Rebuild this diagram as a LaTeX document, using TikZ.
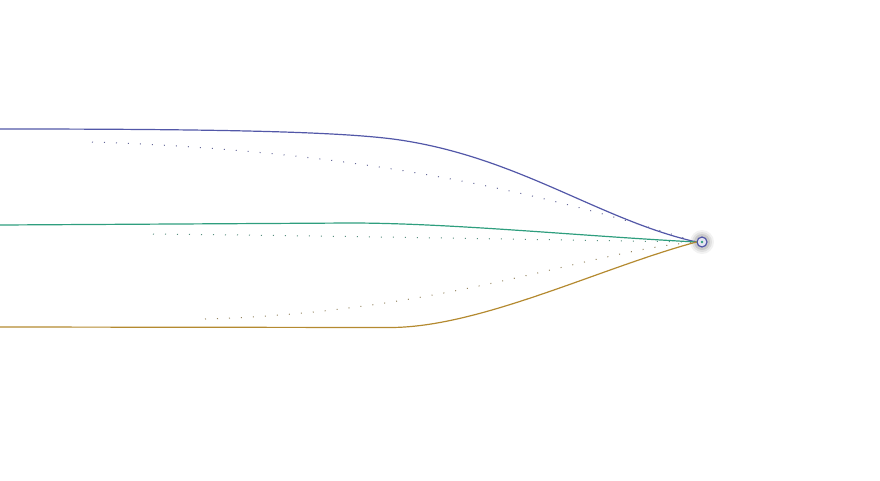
\documentclass[tikz,border=0pt]{standalone}
\begin{document}
\begin{tikzpicture}[x=1pt,y=-1pt,
  flowblue/.style={draw=fblue,line width=1.2pt,line cap=round},
  flowgreen/.style={draw=fgreen,line width=1.2pt,line cap=round},
  floworange/.style={draw=forange,line width=1.2pt,line cap=round},
  dotline/.style={line width=1pt,dash pattern=on 1pt off 11pt},
  hub/.style={circle,draw=fblue,line width=1.2pt,fill=fblue!15,minimum size=10pt,inner sep=0pt}]
\definecolor{fblue}{HTML}{5257A8}
\definecolor{fgreen}{HTML}{2E9E7E}
\definecolor{forange}{HTML}{B48A30}
\useasboundingbox (0,0) rectangle (880,480);
% glow
\foreach \r/\o in {12/0.05,10/0.07,8/0.1}{\fill[black,opacity=\o] (702,242) circle (\r);}
\node[hub] (h) at (702,242) {};
\fill[fgreen] (h.center) circle (1.4);
\coordinate (b0) at (0,129);
\coordinate (g0) at (0,225);
\coordinate (o0) at (0,327);
\coordinate (bd) at (92,142);
\coordinate (gd) at (153,234);
\coordinate (od) at (205,319);
% flows
\draw[flowblue] (b0) .. controls (200,129) and (340,131) .. (400,140)
  .. controls (520,158) and (600,220) .. (h.west);
\draw[flowgreen] (g0) -- (350,223) .. controls (450,223) and (580,236) .. (h.west);
\draw[floworange] (o0) -- (390,327.5) .. controls (480,327.5) and (600,268) .. (h.west);
% dotted
\draw[dotline,fblue!60!gray] (bd) .. controls (400,152) and (580,205) .. (h.west);
\draw[dotline,fgreen!50!gray] (gd) .. controls (350,236) and (550,240) .. (h.west);
\draw[dotline,forange!40!gray] (od) .. controls (450,312) and (590,250) .. (h.west);
\end{tikzpicture}
\end{document}
